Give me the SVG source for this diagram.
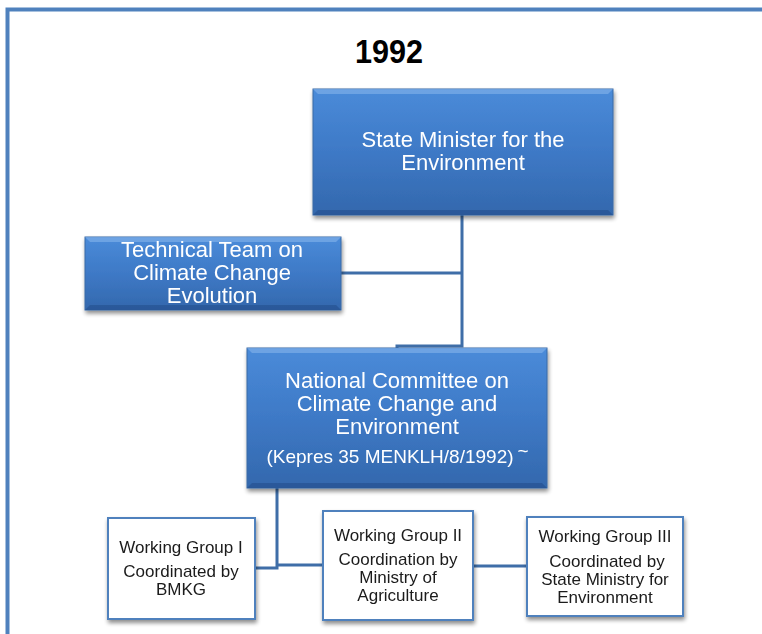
<svg xmlns="http://www.w3.org/2000/svg" width="762" height="634" viewBox="0 0 762 634">
<defs>
<linearGradient id="blueGrad" x1="0" y1="0" x2="0" y2="1">
<stop offset="0" stop-color="#4a8bd9"/>
<stop offset="0.5" stop-color="#3e79c6"/>
<stop offset="1" stop-color="#3368ad"/>
</linearGradient>
<filter id="shadow" x="-10%" y="-10%" width="125%" height="130%">
<feGaussianBlur in="SourceAlpha" stdDeviation="2"/>
<feOffset dx="1" dy="3" result="b"/>
<feComponentTransfer><feFuncA type="linear" slope="0.45"/></feComponentTransfer>
<feMerge><feMergeNode/><feMergeNode in="SourceGraphic"/></feMerge>
</filter>
</defs>
<style>
.blue{fill:url(#blueGrad);stroke:#3a6aa6;stroke-width:1}
.bevelT{fill:#7eaee8;opacity:0.7}
.bevelB{fill:#1f4a85;opacity:0.5}
.wg{fill:#ffffff;stroke:#4f81bd;stroke-width:2}
.wt{font-family:"Liberation Sans",Arial,sans-serif;font-size:22px;fill:#ffffff;text-anchor:middle}
.kt{font-family:"Liberation Sans",Arial,sans-serif;font-size:19px;fill:#ffffff;text-anchor:middle}
.bt{font-family:"Liberation Sans",Arial,sans-serif;font-size:17px;fill:#1a1a1a;text-anchor:middle}
.conn{fill:none;stroke:#3f6ea8;stroke-width:3}
</style>
<rect x="0" y="0" width="762" height="634" fill="#ffffff"/>
<path d="M7.5,640 V9.5 H770" fill="none" stroke="#4f81bd" stroke-width="4"/>
<text x="389" y="63" font-family="'Liberation Sans',Arial,sans-serif" font-size="34" font-weight="bold" text-anchor="middle" fill="#000" textLength="68" lengthAdjust="spacingAndGlyphs">1992</text>
<g id="connectors">
<path class="conn" d="M462,215 V346 H397 V348"/>
<path class="conn" d="M341,273 H462"/>
<path class="conn" d="M277,488 V568 H255"/>
<path class="conn" d="M277,565 H323"/>
<path class="conn" d="M473,566 H527"/>
</g>
<g id="state-minister" filter="url(#shadow)">
<rect class="blue" x="313" y="89" width="300" height="126"/>
<polygon class="bevelT" points="313,89 613,89 608,94 318,94"/>
<polygon class="bevelB" points="313,215 613,215 608,210 318,210"/>
<text class="wt" x="463" y="147">State Minister for the</text>
<text class="wt" x="463" y="170">Environment</text>
</g>
<g id="technical-team" filter="url(#shadow)">
<rect class="blue" x="85" y="237" width="256" height="73"/>
<polygon class="bevelT" points="85,237 341,237 336,242 90,242"/>
<polygon class="bevelB" points="85,310 341,310 336,305 90,305"/>
<text class="wt" x="212" y="257">Technical Team on</text>
<text class="wt" x="212" y="280">Climate Change</text>
<text class="wt" x="212" y="303">Evolution</text>
</g>
<g id="national-committee" filter="url(#shadow)">
<rect class="blue" x="247" y="348" width="300" height="140"/>
<polygon class="bevelT" points="247,348 547,348 542,353 252,353"/>
<polygon class="bevelB" points="247,488 547,488 542,483 252,483"/>
<text class="wt" x="397" y="388">National Committee on</text>
<text class="wt" x="397" y="411">Climate Change and</text>
<text class="wt" x="397" y="434">Environment</text>
<text class="kt" x="390" y="463">(Kepres 35 MENKLH/8/1992)</text>
<text class="kt" x="523" y="457" font-size="9">~</text>
</g>
<g id="wg1" filter="url(#shadow)">
<rect class="wg" x="108" y="518" width="147" height="101"/>
<text class="bt" x="181" y="553">Working Group I</text>
<text class="bt" x="181" y="577">Coordinated by</text>
<text class="bt" x="181" y="595">BMKG</text>
</g>
<g id="wg2" filter="url(#shadow)">
<rect class="wg" x="323" y="511" width="150" height="109"/>
<text class="bt" x="398" y="541">Working Group II</text>
<text class="bt" x="398" y="565">Coordination by</text>
<text class="bt" x="398" y="583">Ministry of</text>
<text class="bt" x="398" y="601">Agriculture</text>
</g>
<g id="wg3" filter="url(#shadow)">
<rect class="wg" x="527" y="517" width="156" height="99"/>
<text class="bt" x="605" y="542">Working Group III</text>
<text class="bt" x="607" y="567">Coordinated by</text>
<text class="bt" x="605" y="585">State Ministry for</text>
<text class="bt" x="605" y="603">Environment</text>
</g>
</svg>
